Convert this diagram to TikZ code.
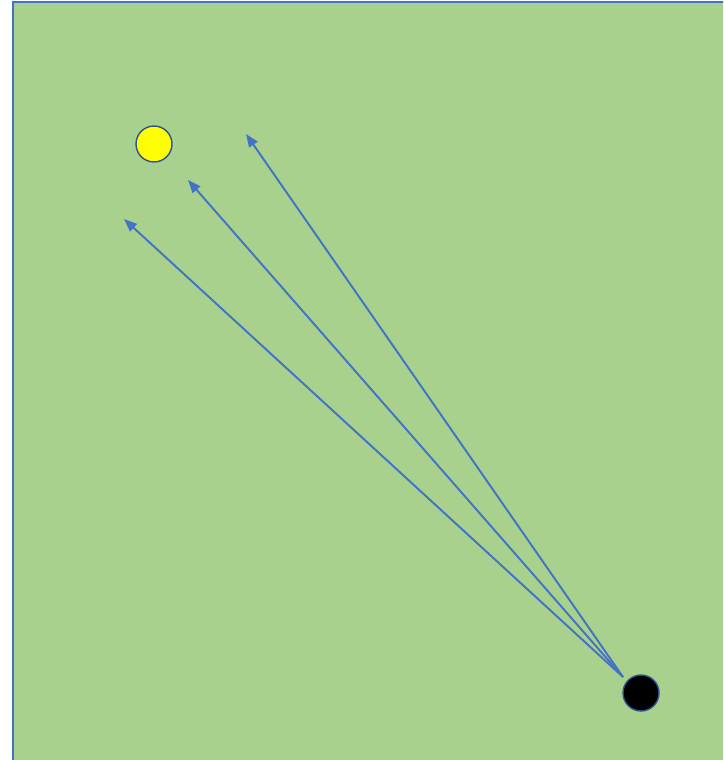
\documentclass[tikz,border=0pt]{standalone}
\usepackage{xcolor}
\usepackage{tikz}
\usetikzlibrary{arrows.meta}
\definecolor{grass}{HTML}{A9D18E}
\definecolor{edgeblue}{HTML}{4472C4}
\definecolor{darkblue}{HTML}{2F528F}
\definecolor{sunyellow}{HTML}{FFFF00}
\tikzset{
  field/.style={fill=grass, draw=edgeblue, line width=1.2pt},
  sun/.style={circle, draw=darkblue, line width=0.8pt, fill=sunyellow, minimum size=0.72cm, inner sep=0pt},
  ball/.style={circle, draw=darkblue, line width=0.8pt, fill=black, minimum size=0.72cm, inner sep=0pt},
  ray/.style={-{Triangle[length=2.6mm, width=2.0mm]}, draw=edgeblue, line width=1.1pt}
}

\begin{document}
\begin{tikzpicture}[x=0.02cm, y=-0.02cm]
  \useasboundingbox (0,0) rectangle (723,760);
  \clip (0,0) rectangle (723,760);
  \draw[field] (13,2) rectangle (740,780);

  \node[sun] (sun) at (154,144) {};
  \node[ball] (ball) at (641,693) {};

  \coordinate (start) at (623,677);
  \coordinate (tipa) at (124,219);
  \coordinate (tipb) at (188,180);
  \coordinate (tipc) at (246,134);

  \draw[ray] (start) -- (tipa);
  \draw[ray] (start) -- (tipb);
  \draw[ray] (start) -- (tipc);
\end{tikzpicture}
\end{document}
